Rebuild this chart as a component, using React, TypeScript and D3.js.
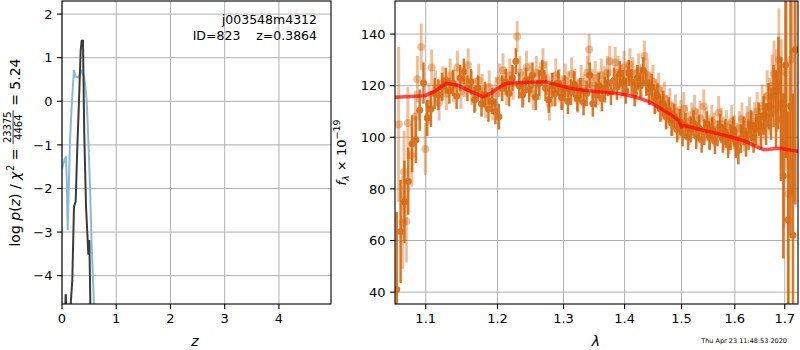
import React, { useRef, useEffect } from 'react';
import * as d3 from 'd3';

const W = 800;
const H = 350;
const FONT = 'DejaVu Sans, sans-serif';

// left panel: log p(z)
const pzZ = [0.05, 0.062, 0.066, 0.072, 0.078, 0.15, 0.16, 0.19, 0.221, 0.252, 0.283, 0.314, 0.345, 0.363, 0.387, 0.41, 0.443, 0.467, 0.486, 0.504, 0.523, 0.54];
const pzLog = [-5.2, -4.7, -4.45, -4.45, -4.7, -5.2, -4.66, -4.1, -2.42, -2.3, -1.04, 0.03, 1.18, 1.39, 1.39, -0.73, -2.42, -3.03, -3.52, -3.18, -4.66, -5.6];
const chiZ = [0.0, 0.02, 0.045, 0.074, 0.09, 0.105, 0.125, 0.148, 0.178, 0.22, 0.25, 0.3, 0.36, 0.41, 0.455, 0.486, 0.517, 0.548, 0.59, 0.62];
const chiLog = [-1.58, -1.45, -1.35, -1.27, -1.9, -2.95, -2.0, -0.89, -0.12, 0.72, 0.56, 0.55, 0.69, 0.56, 0.03, -0.89, -1.96, -3.34, -4.66, -5.3];
const zTicks = [0, 1, 2, 3, 4];
const logTicks = [-4, -3, -2, -1, 0, 1, 2];

// right panel: spectrum, beam A (solid)
const waveA = [1.062, 1.067, 1.072, 1.077, 1.082, 1.087, 1.092, 1.097, 1.102, 1.107, 1.112, 1.117, 1.122, 1.127, 1.132, 1.137, 1.142, 1.147, 1.152, 1.157, 1.162, 1.167, 1.172, 1.177, 1.182, 1.187, 1.192, 1.197, 1.202, 1.207, 1.212, 1.217, 1.222, 1.227, 1.232, 1.237, 1.242, 1.247, 1.252, 1.257, 1.262, 1.267, 1.272, 1.277, 1.282, 1.287, 1.292, 1.297, 1.302, 1.307, 1.312, 1.317, 1.322, 1.327, 1.332, 1.337, 1.342, 1.347, 1.352, 1.357, 1.362, 1.367, 1.372, 1.377, 1.382, 1.387, 1.392, 1.397, 1.402, 1.407, 1.412, 1.417, 1.422, 1.427, 1.432, 1.437, 1.442, 1.447, 1.452, 1.457, 1.462, 1.467, 1.472, 1.477, 1.482, 1.487, 1.492, 1.497, 1.502, 1.507, 1.512, 1.517, 1.522, 1.527, 1.532, 1.537, 1.542, 1.547, 1.552, 1.557, 1.562, 1.567, 1.572, 1.577, 1.582, 1.587, 1.592, 1.597, 1.602, 1.607, 1.612, 1.617, 1.622, 1.627, 1.632, 1.637, 1.642, 1.647, 1.652, 1.657, 1.662, 1.667, 1.672, 1.677, 1.682, 1.687, 1.692, 1.697, 1.702, 1.707, 1.712, 1.717, 1.722];
const fluxA = [41, 63.5, 75, 83, 97.5, 99, 110.5, 121, 107.5, 111, 117, 116.5, 119.5, 122, 118, 121, 116, 123, 125.5, 119, 121.5, 114.5, 119, 113, 116.5, 111, 114, 110, 108, 119, 121.5, 117, 123, 129.5, 120, 116.5, 122, 118.5, 124, 115.5, 121, 125, 119, 114.5, 120, 117, 121, 115.5, 119, 114, 117.5, 120.5, 115, 118, 113.5, 117, 124, 113, 116.5, 120, 115, 118.5, 121, 117.5, 122, 119.5, 124.5, 121, 118, 125, 121.5, 117, 123, 120, 126, 121, 117.5, 119.5, 114, 116, 111, 113, 108, 110.5, 105.5, 108, 103, 106, 101.5, 104.5, 100, 103, 105.5, 100.5, 103.5, 99, 102, 105, 100, 103, 98.5, 101.5, 104, 99, 102, 97, 100, 103, 97.5, 95, 99.5, 102.5, 98, 101, 104.5, 100, 103, 107, 102.5, 108.5, 105, 112, 109, 116, 111, 121, 107, 85, 128, 68, 112, 62, 134];
const errA = [30, 20, 16, 13, 11, 9, 8, 8, 7, 7, 6, 6, 5.5, 5, 5, 5, 5, 5, 5, 5, 5, 5, 5, 5, 5, 5, 5, 5, 5, 5, 5, 5, 5, 5, 5, 5, 5, 5, 5, 5, 5, 5, 5, 5, 5, 5, 5, 5, 5, 5, 5, 5, 5, 5, 5, 5, 5, 5, 5, 5, 5, 5, 5, 5, 5, 5, 5, 5, 5, 5, 5, 5, 5, 5, 5, 5, 5, 5, 5, 5, 5, 5, 5, 5, 5, 5, 5, 5, 5, 5, 5, 5, 5, 5, 5, 5, 5, 5, 5, 5, 5, 5, 5, 5, 5, 5, 5, 5, 5.5, 5.5, 5.5, 5.5, 5.5, 6, 6, 6, 6, 6.5, 7, 7.5, 8, 9, 10, 12, 15, 18, 24, 32, 36, 42, 50, 55, 60];

// beam B (faint)
const waveB = [1.0645, 1.0695, 1.0715, 1.0745, 1.0765, 1.0815, 1.0865, 1.089, 1.094, 1.0995, 1.1045, 1.108, 1.113, 1.118, 1.123, 1.128, 1.133, 1.138, 1.143, 1.148, 1.153, 1.158, 1.163, 1.168, 1.173, 1.178, 1.183, 1.188, 1.193, 1.198, 1.203, 1.208, 1.213, 1.218, 1.223, 1.229, 1.233, 1.238, 1.243, 1.248, 1.253, 1.258, 1.263, 1.268, 1.273, 1.278, 1.283, 1.288, 1.293, 1.298, 1.303, 1.308, 1.313, 1.318, 1.323, 1.328, 1.333, 1.338, 1.341, 1.346, 1.351, 1.356, 1.361, 1.366, 1.371, 1.375, 1.384, 1.389, 1.394, 1.399, 1.404, 1.409, 1.414, 1.419, 1.424, 1.429, 1.434, 1.439, 1.444, 1.449, 1.454, 1.459, 1.464, 1.469, 1.474, 1.479, 1.484, 1.489, 1.494, 1.499, 1.504, 1.509, 1.514, 1.519, 1.524, 1.529, 1.534, 1.541, 1.546, 1.551, 1.556, 1.561, 1.569, 1.574, 1.579, 1.584, 1.589, 1.594, 1.599, 1.604, 1.609, 1.614, 1.619, 1.624, 1.629, 1.634, 1.639, 1.644, 1.649, 1.654, 1.659, 1.664, 1.669, 1.674, 1.678, 1.683, 1.688, 1.693, 1.698, 1.703, 1.708, 1.713, 1.718];
const fluxB = [105, 67, 86.5, 67.5, 105.5, 93, 108, 122.5, 135, 95.5, 113, 127, 119, 113.5, 121, 117, 124, 120, 127, 117.5, 122, 128, 119, 116.5, 122, 118, 114, 119.5, 113, 117, 122, 126, 119, 124, 121, 139, 125, 119, 127, 122.5, 117, 125, 121, 128, 123, 113, 118.5, 124, 120, 117.5, 122, 119, 124.5, 120, 116, 121.5, 118, 125, 134, 120, 123, 119, 124, 121, 125, 129.5, 129, 125, 121.5, 127, 123, 128, 124.5, 120, 126, 122, 131.5, 124, 119, 121.5, 116, 118.5, 113, 115, 110, 112.5, 107, 110, 105.5, 108, 111, 106, 103.5, 107, 110, 104.5, 107.5, 112, 105, 102, 106, 103, 109.5, 105, 101.5, 104, 100, 106, 102, 99, 103.5, 107, 101, 105, 108.5, 103, 106, 110, 104.5, 112, 108, 116, 112, 120, 124.5, 118, 130, 113, 97, 125, 78, 130, 133];
const errB = [30, 18, 16, 16, 14, 12, 10, 9, 9, 10, 8, 7, 7, 7, 6.5, 6.5, 6.5, 6.5, 6.5, 6.5, 6.5, 6.5, 6.5, 6.5, 6.5, 6.5, 6.5, 6.5, 6.5, 6.5, 6.5, 6.5, 6.5, 6.5, 6.5, 6, 6.5, 6.5, 6.5, 6.5, 6.5, 6.5, 6.5, 6.5, 6.5, 6.5, 6.5, 6.5, 6.5, 6.5, 6.5, 6.5, 6.5, 6.5, 6.5, 6.5, 6.5, 6.5, 6, 6.5, 6.5, 6.5, 6.5, 6.5, 6.5, 6, 6, 6.5, 6.5, 6.5, 6.5, 6.5, 6.5, 6.5, 6.5, 6.5, 6, 6.5, 6.5, 6.5, 6.5, 6.5, 6.5, 6.5, 6.5, 6.5, 6.5, 6.5, 6.5, 6.5, 6.5, 6.5, 6.5, 6.5, 6.5, 6.5, 6.5, 6.5, 6.5, 6.5, 6.5, 6.5, 6.5, 6.5, 6.5, 6.5, 6.5, 6.5, 6.5, 6.5, 6.5, 6.5, 6.5, 7, 7, 7, 7.5, 7.5, 8, 8.5, 9, 10, 11, 12, 13, 16, 20, 25, 32, 38, 45, 52, 58];

// best-fit model
const modelWave = [1.058, 1.08, 1.099, 1.11, 1.128, 1.145, 1.16, 1.179, 1.19, 1.199, 1.213, 1.24, 1.272, 1.29, 1.31, 1.329, 1.352, 1.38, 1.399, 1.42, 1.442, 1.46, 1.486, 1.495, 1.5, 1.505, 1.538, 1.565, 1.591, 1.62, 1.65, 1.658, 1.689, 1.73];
const modelFlux = [115.5, 115.8, 116.1, 117.5, 120.9, 120, 118, 115.7, 117, 118.8, 120.9, 121.2, 121.5, 120.3, 119, 118.3, 117.7, 117.2, 116.6, 115.5, 113.8, 111.5, 108, 106.5, 104.1, 104.5, 102.8, 101.5, 100.2, 98.5, 95.7, 95.2, 95.7, 94.5];

const waveTicks = [1.1, 1.2, 1.3, 1.4, 1.5, 1.6, 1.7];
const fluxTicks = [40, 60, 80, 100, 120, 140];

const fmt = (v: number) => (v < 0 ? '\u2212' + Math.abs(v) : String(v));

const App = () => {
  const chartRef = useRef<SVGSVGElement>(null);

  useEffect(() => {
    drawChart();
  }, []);

  const drawFrame = (svg, x, y, xt, yt) => {
    const [x0, x1] = x.range();
    const [y0, y1] = y.range();
    const g = svg.append('g');
    g.selectAll('.gx').data(xt).enter().append('line')
      .attr('x1', (d) => x(d)).attr('x2', (d) => x(d))
      .attr('y1', y1).attr('y2', y0)
      .attr('stroke', '#b0b0b0').attr('stroke-width', 1);
    g.selectAll('.gy').data(yt).enter().append('line')
      .attr('x1', x0).attr('x2', x1)
      .attr('y1', (d) => y(d)).attr('y2', (d) => y(d))
      .attr('stroke', '#b0b0b0').attr('stroke-width', 1);
    return g;
  };

  const drawAxes = (svg, x, y, xt, yt, xf, yf) => {
    const [x0, x1] = x.range();
    const [y0, y1] = y.range();
    const g = svg.append('g');
    g.append('rect').attr('x', x0).attr('y', y1).attr('width', x1 - x0).attr('height', y0 - y1)
      .attr('fill', 'none').attr('stroke', '#000').attr('stroke-width', 1.1);
    xt.forEach((d) => {
      g.append('line').attr('x1', x(d)).attr('x2', x(d)).attr('y1', y0).attr('y2', y0 + 4.9)
        .attr('stroke', '#000').attr('stroke-width', 1.1);
      g.append('text').attr('x', x(d)).attr('y', y0 + 9.5).attr('dy', '0.76em')
        .attr('text-anchor', 'middle').attr('font-size', 13).attr('font-family', FONT).text(xf(d));
    });
    yt.forEach((d) => {
      g.append('line').attr('x1', x0 - 4.9).attr('x2', x0).attr('y1', y(d)).attr('y2', y(d))
        .attr('stroke', '#000').attr('stroke-width', 1.1);
      g.append('text').attr('x', x0 - 9.5).attr('y', y(d)).attr('dy', '0.36em')
        .attr('text-anchor', 'end').attr('font-size', 13).attr('font-family', FONT).text(yf(d));
    });
  };

  const drawChart = () => {
    const svg = d3.select(chartRef.current);
    svg.selectAll('*').remove();
    svg.append('rect').attr('width', W).attr('height', H).attr('fill', '#fff');

    const defs = svg.append('defs');

    // ---- p(z) panel ----
    const xz = d3.scaleLinear().domain([0, 4.96]).range([62, 331]);
    const yl = d3.scaleLinear().domain([-4.65, 2.3]).range([304, 1]);
    defs.append('clipPath').attr('id', 'clipL').append('rect')
      .attr('x', 62).attr('y', 1).attr('width', 269).attr('height', 303);
    drawFrame(svg, xz, yl, zTicks, logTicks);

    const lineL = (zs, vs) => d3.line<number>().x((d, i) => xz(zs[i])).y((d) => yl(d))(vs);
    const gl = svg.append('g').attr('clip-path', 'url(#clipL)');
    gl.append('path').attr('d', lineL(chiZ, chiLog)).attr('fill', 'none')
      .attr('stroke', '#8bb9db').attr('stroke-width', 2);
    gl.append('path').attr('d', lineL(pzZ, pzLog)).attr('fill', 'none')
      .attr('stroke', '#3b3b3b').attr('stroke-width', 2);

    drawAxes(svg, xz, yl, zTicks, logTicks, (d) => String(d), fmt);

    svg.append('text').attr('x', 317).attr('y', 24).attr('text-anchor', 'end')
      .attr('font-size', 12.5).attr('font-family', FONT).text('j003548m4312');
    svg.append('text').attr('x', 317).attr('y', 40).attr('text-anchor', 'end')
      .attr('font-size', 12.5).attr('font-family', FONT).style('white-space', 'pre')
      .text('ID=823    z=0.3864');

    svg.append('text').attr('x', 195).attr('y', 346).attr('text-anchor', 'middle')
      .attr('font-size', 14).attr('font-family', FONT).attr('font-style', 'italic').text('z');

    // y label with fraction
    const lab = svg.append('g').attr('transform', 'translate(19.5,152.5) rotate(-90)');
    const inner = lab.append('g');
    let u = 0;
    const t1 = inner.append('text').attr('x', u).attr('y', 0).attr('font-size', 14).attr('font-family', FONT)
      .style('white-space', 'pre');
    t1.append('tspan').text('log ');
    t1.append('tspan').attr('font-style', 'italic').text('p');
    t1.append('tspan').text('(');
    t1.append('tspan').attr('font-style', 'italic').text('z');
    t1.append('tspan').text(') / ');
    t1.append('tspan').attr('font-style', 'italic').text('\u03c7');
    u += (t1.node() as SVGTextElement).getComputedTextLength() + 0.5;
    const sup = inner.append('text').attr('x', u).attr('y', -6).attr('font-size', 10).attr('font-family', FONT).text('2');
    u += (sup.node() as SVGTextElement).getComputedTextLength();
    const eq1 = inner.append('text').attr('x', u).attr('y', 0).attr('font-size', 14).attr('font-family', FONT)
      .style('white-space', 'pre').text(' = ');
    u += (eq1.node() as SVGTextElement).getComputedTextLength();
    const num = inner.append('text').attr('y', -8.5).attr('font-size', 10).attr('font-family', FONT)
      .attr('text-anchor', 'middle').text('23375');
    const den = inner.append('text').attr('y', 2.5).attr('font-size', 10).attr('font-family', FONT)
      .attr('text-anchor', 'middle').text('4464');
    const fw = Math.max((num.node() as SVGTextElement).getComputedTextLength(),
      (den.node() as SVGTextElement).getComputedTextLength()) + 2;
    num.attr('x', u + fw / 2);
    den.attr('x', u + fw / 2);
    inner.append('line').attr('x1', u).attr('x2', u + fw).attr('y1', -6.4).attr('y2', -6.4)
      .attr('stroke', '#000').attr('stroke-width', 0.8);
    u += fw;
    const eq2 = inner.append('text').attr('x', u).attr('y', 0).attr('font-size', 14).attr('font-family', FONT)
      .style('white-space', 'pre').text(' = 5.24');
    u += (eq2.node() as SVGTextElement).getComputedTextLength();
    inner.attr('transform', `translate(${-u / 2},0)`);

    // ---- spectrum panel ----
    const xw = d3.scaleLog().domain([1.0598, 1.7275]).range([395, 798]);
    const yf = d3.scaleLinear().domain([35.4, 152.8]).range([304, 1]);
    defs.append('clipPath').attr('id', 'clipR').append('rect')
      .attr('x', 395).attr('y', 1).attr('width', 403).attr('height', 303);
    drawFrame(svg, xw, yf, waveTicks, fluxTicks);

    const gr = svg.append('g').attr('clip-path', 'url(#clipR)');
    const orange = '#d5640a';
    const drawBeam = (ws, fs, es, op, r, sw) => {
      const gb = gr.append('g').attr('opacity', op);
      ws.forEach((w, i) => {
        gb.append('line').attr('x1', xw(w)).attr('x2', xw(w))
          .attr('y1', yf(fs[i] - es[i])).attr('y2', yf(fs[i] + es[i]))
          .attr('stroke', orange).attr('stroke-width', sw);
      });
      ws.forEach((w, i) => {
        gb.append('circle').attr('cx', xw(w)).attr('cy', yf(fs[i])).attr('r', r).attr('fill', orange);
      });
    };
    const gB = gr.append('g');
    waveB.forEach((w, i) => {
      gB.append('line').attr('x1', xw(w)).attr('x2', xw(w))
        .attr('y1', yf(fluxB[i] - errB[i])).attr('y2', yf(fluxB[i] + errB[i]))
        .attr('stroke', orange).attr('stroke-width', 3).attr('opacity', 0.4);
      gB.append('circle').attr('cx', xw(w)).attr('cy', yf(fluxB[i])).attr('r', 4)
        .attr('fill', orange).attr('opacity', 0.4);
    });
    drawBeam(waveA, fluxA, errA, 0.88, 3.5, 2.5);

    const lineR = d3.line<number>().x((d, i) => xw(modelWave[i])).y((d) => yf(d));
    gr.append('path').attr('d', lineR(modelFlux)).attr('fill', 'none')
      .attr('stroke', '#ff0000').attr('stroke-opacity', 0.7).attr('stroke-width', 3.5);

    drawAxes(svg, xw, yf, waveTicks, fluxTicks, (d) => d.toFixed(1), (d) => String(d));

    svg.append('text').attr('x', 596).attr('y', 346).attr('text-anchor', 'middle')
      .attr('font-size', 14).attr('font-family', FONT).attr('font-style', 'italic').text('\u03bb');

    const rl = svg.append('text').attr('transform', 'translate(345.5,152.5) rotate(-90)')
      .attr('text-anchor', 'middle').attr('font-size', 13).attr('font-family', FONT)
      .style('white-space', 'pre');
    rl.append('tspan').attr('font-style', 'italic').text('f');
    rl.append('tspan').attr('font-style', 'italic').attr('font-size', 9.5).attr('dy', 3).text('\u03bb');
    rl.append('tspan').attr('dy', -3).text(' \u00d7 10');
    rl.append('tspan').attr('font-size', 9.5).attr('dy', -6).text('\u221219');

    svg.append('text').attr('x', 787).attr('y', 343).attr('text-anchor', 'end')
      .attr('font-size', 6.5).attr('font-family', FONT).text('Thu Apr 23 11:48:53 2020');
  };

  return (
    <svg ref={chartRef} width={W} height={H}
      style={{ position: 'absolute', left: 0, top: 0, display: 'block' }} />
  );
};

export default App;
